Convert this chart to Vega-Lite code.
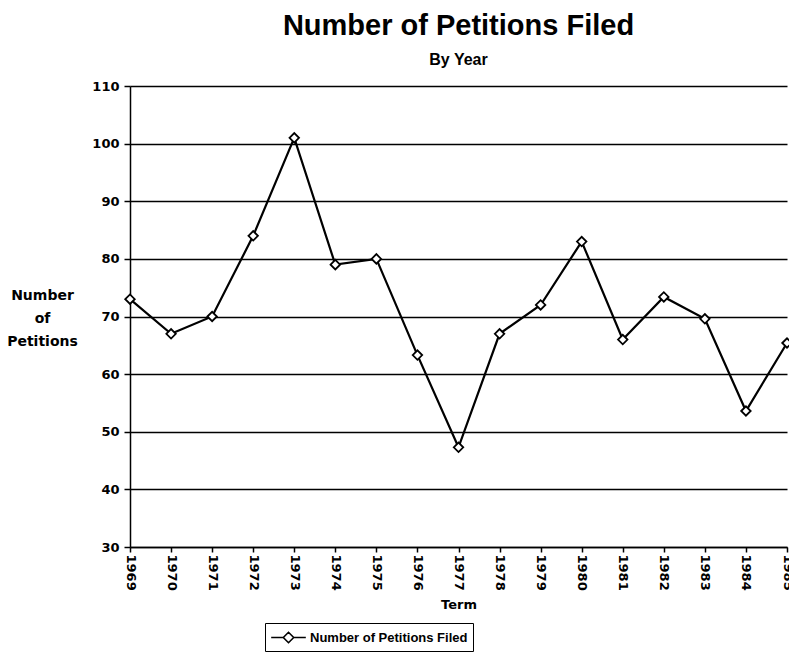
{
  "$schema": "https://vega.github.io/schema/vega-lite/v6.json",
  "width": 657,
  "height": 461,
  "autosize": {"type": "none"},
  "padding": {"left": 130, "top": 86, "right": 2, "bottom": 110},
  "background": "white",
  "title": {
    "text": "Number of Petitions Filed",
    "subtitle": "By Year",
    "font": "Liberation Sans",
    "fontSize": 29,
    "fontWeight": "bold",
    "color": "black",
    "subtitleFont": "Liberation Sans",
    "subtitleFontSize": 16,
    "subtitleFontWeight": "bold",
    "subtitleColor": "black",
    "subtitlePadding": 11,
    "anchor": "middle",
    "offset": 12
  },
  "data": {
    "values": [
      {"year": "1969", "petitions": 73, "series": "Number of Petitions Filed"},
      {"year": "1970", "petitions": 67, "series": "Number of Petitions Filed"},
      {"year": "1971", "petitions": 70, "series": "Number of Petitions Filed"},
      {"year": "1972", "petitions": 84, "series": "Number of Petitions Filed"},
      {"year": "1973", "petitions": 101, "series": "Number of Petitions Filed"},
      {"year": "1974", "petitions": 79, "series": "Number of Petitions Filed"},
      {"year": "1975", "petitions": 80, "series": "Number of Petitions Filed"},
      {"year": "1976", "petitions": 63.3, "series": "Number of Petitions Filed"},
      {"year": "1977", "petitions": 47.3, "series": "Number of Petitions Filed"},
      {"year": "1978", "petitions": 67, "series": "Number of Petitions Filed"},
      {"year": "1979", "petitions": 72, "series": "Number of Petitions Filed"},
      {"year": "1980", "petitions": 83, "series": "Number of Petitions Filed"},
      {"year": "1981", "petitions": 66, "series": "Number of Petitions Filed"},
      {"year": "1982", "petitions": 73.4, "series": "Number of Petitions Filed"},
      {"year": "1983", "petitions": 69.6, "series": "Number of Petitions Filed"},
      {"year": "1984", "petitions": 53.6, "series": "Number of Petitions Filed"},
      {"year": "1985", "petitions": 65.4, "series": "Number of Petitions Filed"}
    ]
  },
  "encoding": {
    "x": {
      "field": "year",
      "type": "ordinal",
      "scale": {"type": "point", "padding": 0},
      "axis": {
        "title": "Term",
        "labelAngle": 90,
        "labelFont": "DejaVu Sans",
        "labelFontSize": 13,
        "labelFontWeight": "bold",
        "labelColor": "black",
        "labelPadding": 2,
        "titleFont": "DejaVu Sans",
        "titleFontSize": 13,
        "titleFontWeight": "bold",
        "titleColor": "black",
        "titlePadding": 8,
        "domainColor": "black",
        "domainWidth": 1.5,
        "tickColor": "black",
        "tickWidth": 1.5,
        "tickSize": 5,
        "grid": false
      }
    },
    "y": {
      "field": "petitions",
      "type": "quantitative",
      "scale": {"domain": [30, 110], "nice": false, "zero": false},
      "axis": {
        "values": [30, 40, 50, 60, 70, 80, 90, 100, 110],
        "title": ["Number", "of", "Petitions"],
        "titleAngle": 0,
        "titleAlign": "center",
        "titleBaseline": "top",
        "titleX": -88,
        "titleY": 202,
        "titleLineHeight": 23,
        "titleFont": "DejaVu Sans",
        "titleFontSize": 14,
        "titleFontWeight": "bold",
        "titleColor": "black",
        "labelFont": "DejaVu Sans",
        "labelFontSize": 13,
        "labelFontWeight": "bold",
        "labelColor": "black",
        "labelPadding": 5,
        "domainColor": "black",
        "domainWidth": 1.5,
        "tickColor": "black",
        "tickWidth": 1.5,
        "tickSize": 6,
        "grid": true,
        "gridColor": "black",
        "gridWidth": 1.5,
        "gridOpacity": 1
      }
    }
  },
  "layer": [
    {
      "mark": {"type": "line", "color": "black", "strokeWidth": 2.2}
    },
    {
      "mark": {
        "type": "point",
        "shape": "diamond",
        "filled": false,
        "fill": "white",
        "fillOpacity": 1,
        "strokeWidth": 1.8,
        "size": 90,
        "opacity": 1
      },
      "encoding": {
        "stroke": {
          "field": "series",
          "type": "nominal",
          "scale": {"range": ["black"]},
          "legend": {
            "title": null,
            "orient": "none",
            "legendX": 135,
            "legendY": 537,
            "direction": "horizontal",
            "strokeColor": "black",
            "padding": 5,
            "symbolType": "M-2,0H-0.6M0.6,0H2M-0.6,0L0,-0.6L0.6,0L0,0.6Z",
            "symbolSize": 300,
            "symbolOffset": 9,
            "labelOffset": 12,
            "symbolStrokeWidth": 1.6,
            "symbolFillColor": "white",
            "symbolStrokeColor": "black",
            "labelFont": "Liberation Sans",
            "labelFontSize": 13,
            "labelFontWeight": "bold",
            "labelColor": "black"
          }
        }
      }
    }
  ],
  "config": {
    "view": {"stroke": null}
  }
}
